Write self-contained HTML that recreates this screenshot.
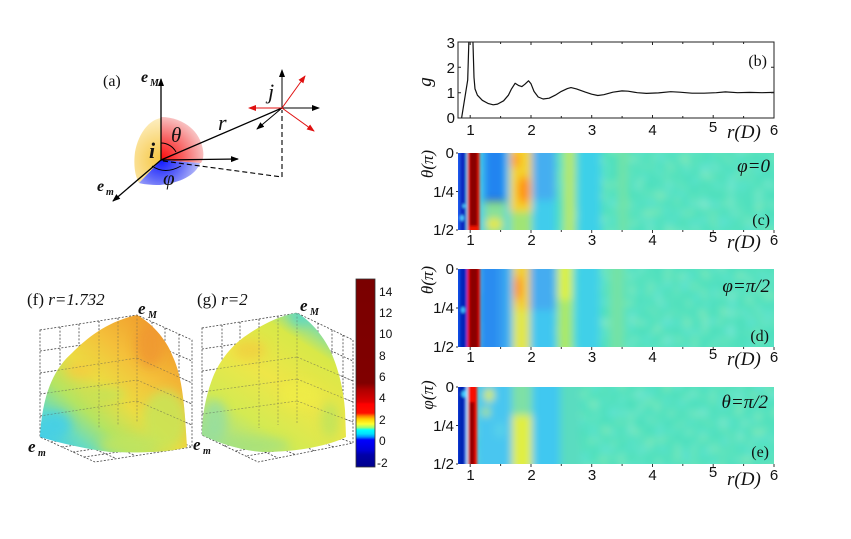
<!DOCTYPE html>
<html><head><meta charset="utf-8"><style>
html,body{margin:0;padding:0;background:#fff;}
svg{display:block;}
.tk{font-family:"Liberation Sans",sans-serif;font-size:15px;fill:#111;}
.cb{font-family:"Liberation Sans",sans-serif;font-size:12px;fill:#111;}
.sr{font-family:"Liberation Serif",serif;fill:#111;}
.it{font-family:"Liberation Serif",serif;font-style:italic;fill:#111;}
</style></head><body>
<svg width="851" height="539" viewBox="0 0 851 539" xmlns="http://www.w3.org/2000/svg">
<defs>
<marker id="ak" markerWidth="8" markerHeight="8" refX="7" refY="4" orient="auto" markerUnits="userSpaceOnUse"><path d="M0,1 L8,4 L0,7 Z" fill="#000"/></marker>
<marker id="ar" markerWidth="8" markerHeight="8" refX="7" refY="4" orient="auto" markerUnits="userSpaceOnUse"><path d="M0,1 L8,4 L0,7 Z" fill="#e01010"/></marker>
<radialGradient id="gy" gradientUnits="userSpaceOnUse" cx="161" cy="160" r="42"><stop offset="0" stop-color="#f6c640"/><stop offset="1" stop-color="#fdeec0"/></radialGradient>
<radialGradient id="gr" gradientUnits="userSpaceOnUse" cx="161" cy="160" r="44"><stop offset="0" stop-color="#ff0808"/><stop offset="0.5" stop-color="#f86060"/><stop offset="1" stop-color="#f8c4c4"/></radialGradient>
<radialGradient id="gb" gradientUnits="userSpaceOnUse" cx="161" cy="160" r="40"><stop offset="0" stop-color="#1018ff"/><stop offset="0.5" stop-color="#6068f8"/><stop offset="1" stop-color="#c0c4f8"/></radialGradient>
<filter id="bl" filterUnits="userSpaceOnUse" x="430" y="20" width="380" height="480"><feGaussianBlur stdDeviation="4"/></filter>
<filter id="bls" filterUnits="userSpaceOnUse" x="430" y="20" width="380" height="480"><feGaussianBlur stdDeviation="1.3"/></filter>
<filter id="bl2" x="-20%" y="-20%" width="140%" height="140%"><feGaussianBlur stdDeviation="5"/></filter>
<filter id="m1" x="0" y="0" width="100%" height="100%"><feTurbulence type="fractalNoise" baseFrequency="0.11" numOctaves="2" seed="3"/><feColorMatrix type="matrix" values="0 0 0 0 0.62  0 0 0 0 0.92  0 0 0 0 0.42  3 0 0 0 -1.5"/></filter>
<filter id="m2" x="0" y="0" width="100%" height="100%"><feTurbulence type="fractalNoise" baseFrequency="0.11" numOctaves="2" seed="11"/><feColorMatrix type="matrix" values="0 0 0 0 0.2  0 0 0 0 0.8  0 0 0 0 0.95  3 0 0 0 -1.5"/></filter>
<clipPath id="cb"><rect x="458" y="42" width="316" height="76"/></clipPath>
<clipPath id="cc"><rect x="458" y="153" width="316" height="77"/></clipPath>
<clipPath id="cd"><rect x="458" y="269" width="316" height="78"/></clipPath>
<clipPath id="ce"><rect x="458" y="387" width="316" height="77"/></clipPath>
<linearGradient id="cbar" x1="0" y1="0" x2="0" y2="1">
<stop offset="0" stop-color="#7a0000"/><stop offset="0.553" stop-color="#800000"/><stop offset="0.59" stop-color="#b00000"/><stop offset="0.654" stop-color="#e00000"/><stop offset="0.665" stop-color="#ff0000"/><stop offset="0.713" stop-color="#ff1000"/><stop offset="0.729" stop-color="#ff8000"/><stop offset="0.745" stop-color="#ffd000"/><stop offset="0.771" stop-color="#ffff30"/><stop offset="0.79" stop-color="#a0ff70"/><stop offset="0.803" stop-color="#00ffff"/><stop offset="0.824" stop-color="#00e0ff"/><stop offset="0.84" stop-color="#0090ff"/><stop offset="0.856" stop-color="#0000ff"/><stop offset="0.91" stop-color="#0000d8"/><stop offset="0.936" stop-color="#0000a8"/><stop offset="1" stop-color="#00008b"/>
</linearGradient>
<linearGradient id="sf" gradientUnits="userSpaceOnUse" x1="150" y1="318" x2="45" y2="440"><stop offset="0" stop-color="#f09c2c"/><stop offset="0.28" stop-color="#f4c03a"/><stop offset="0.5" stop-color="#ecdc42"/><stop offset="0.7" stop-color="#b4e462"/><stop offset="0.86" stop-color="#6cdcbc"/><stop offset="1" stop-color="#44cfe8"/></linearGradient>
<linearGradient id="sg" gradientUnits="userSpaceOnUse" x1="297" y1="313" x2="215" y2="440"><stop offset="0" stop-color="#78dcb0"/><stop offset="0.15" stop-color="#d8e848"/><stop offset="0.45" stop-color="#eee648"/><stop offset="0.75" stop-color="#d4ea52"/><stop offset="1" stop-color="#a0e090"/></linearGradient>
<clipPath id="clf"><path d="M137,315 C150,322 166,338 173,357 C180,372 183,392 185,417 L187,447 C170,452 150,453 110,452 C85,449 60,443 40,437 C41,418 44,400 50,385 C56,370 64,360 72,353 C85,340 105,322 137,315 Z"/></clipPath>
<clipPath id="clg"><path d="M297,313 C305,317 320,330 330,350 C337,365 343,385 345,410 L346,437 C330,445 300,452 263,452 C245,451 220,444 202,435 C202,415 206,395 213,377 C220,360 232,345 247,335 C260,326 280,315 297,313 Z"/></clipPath>
</defs>
<rect width="851" height="539" fill="#fff"/>

<!-- ===== Panel (a) ===== -->
<path d="M161,160 L161,118 C148,120 138,135 135,152 C133,168 136,178 139,183 Z" fill="url(#gy)"/>
<path d="M161,160 L161,117 C182,117 200,130 203,150 C204,156 203,160 201,163 Z" fill="url(#gr)"/>
<path d="M161,160 L200,163 C196,175 180,183 160,185 C150,185 142,184 139,183 Z" fill="url(#gb)"/>
<path d="M161,143 A17,17 0 0 1 176,152" fill="none" stroke="#000" stroke-width="1"/>
<path d="M152,166 Q165,175 181,166" fill="none" stroke="#000" stroke-width="1"/>
<g stroke="#000" stroke-width="1.3" fill="none">
<line x1="161" y1="160" x2="161" y2="79" marker-end="url(#ak)"/>
<line x1="161" y1="160" x2="238" y2="159" marker-end="url(#ak)"/>
<line x1="161" y1="160" x2="113" y2="201" marker-end="url(#ak)"/>
<line x1="161" y1="160" x2="282" y2="108"/>
<line x1="163" y1="161" x2="282" y2="177" stroke-dasharray="5,3" stroke-width="1.1"/>
<line x1="282" y1="177" x2="282" y2="110" stroke-dasharray="5,3" stroke-width="1.1"/>
<line x1="282" y1="108" x2="282" y2="70" marker-end="url(#ak)" stroke-width="1"/>
<line x1="282" y1="108" x2="319" y2="108" marker-end="url(#ak)" stroke-width="1"/>
<line x1="282" y1="108" x2="257" y2="129" marker-end="url(#ak)" stroke-width="1"/>
</g>
<g stroke="#e01010" stroke-width="1" fill="none">
<line x1="282" y1="108" x2="305" y2="76" marker-end="url(#ar)"/>
<line x1="282" y1="108" x2="249" y2="108" marker-end="url(#ar)"/>
<line x1="282" y1="108" x2="314" y2="131" marker-end="url(#ar)"/>
</g>
<text x="103" y="86" class="sr" font-size="16">(a)</text>
<text x="141" y="82" class="it" font-size="16" font-weight="bold">e</text><text x="150" y="86" class="it" font-size="10" font-weight="bold">M</text>
<text x="97" y="191" class="it" font-size="16" font-weight="bold">e</text><text x="106" y="195" class="it" font-size="10" font-weight="bold">m</text>
<text x="149" y="158" class="it" font-size="22" font-weight="bold">i</text>
<text x="171" y="142" class="it" font-size="21">θ</text>
<text x="218" y="130" class="it" font-size="22">r</text>
<text x="268" y="99" class="it" font-size="22">j</text>
<text x="163" y="185" class="it" font-size="21">φ</text>

<!-- ===== Panel (b) ===== -->
<g clip-path="url(#cb)">
<path d="M461.6,118 L467.7,80 L469.2,30 M472.6,30 L474,77.5 L475,88.9 L477.4,95.2 L482.3,100.3 L488.4,103.6 L493.2,104.8 L497.5,104.1 L503.6,100.8 L508.4,95.2 L511.5,88.9 L515.1,83.3 L518.8,85.6 L521.8,86.6 L524.8,84.3 L528.5,80.8 L531,83.8 L534,91.4 L538.2,97 L543.1,99 L549.2,98.2 L555.2,95.2 L561.3,91.4 L567.4,88.6 L571,87.6 L576.5,88.9 L585.6,92.2 L591.7,94.2 L597.8,95.5 L603.8,94.7 L612.9,92.2 L622,90.9 L628.1,91.2 L637.3,92.7 L646.4,93.4 L658.5,92.9 L670.7,91.7 L679.8,92.2 L692,93.2 L704.1,93.2 L716.3,92.7 L725.4,91.9 L737.6,92.7 L749.7,92.4 L761.9,92.7 L774,92.4" fill="none" stroke="#111" stroke-width="1.2" stroke-linejoin="round"/>
</g>
<rect x="458" y="42" width="316" height="76" fill="none" stroke="#222" stroke-width="1"/>
<g stroke="#222" stroke-width="1">
<path d="M470.2,118v-3M500.6,118v-2M531,118v-3M561.3,118v-2M591.7,118v-3M622.1,118v-2M652.5,118v-3M682.8,118v-2M713.2,118v-3M743.6,118v-2"/>
<path d="M470.2,42v3M500.6,42v2M531,42v3M561.3,42v2M591.7,42v3M622.1,42v2M652.5,42v3M682.8,42v2M713.2,42v3M743.6,42v2"/>
<path d="M458,67.3h3M458,92.7h3M774,67.3h-3M774,92.7h-3"/>
</g>
<g class="tk" text-anchor="end"><text x="455" y="48">3</text><text x="455" y="73">2</text><text x="455" y="98">1</text><text x="455" y="123">0</text></g>
<text transform="translate(431,82) rotate(-90)" class="it" font-size="19" text-anchor="middle">g</text>
<text x="767" y="66" class="sr" font-size="16" text-anchor="end">(b)</text>
<g class="tk" text-anchor="middle"><text x="470.5" y="135">1</text><text x="531.5" y="135">2</text><text x="592" y="135">3</text><text x="652.5" y="135">4</text><text x="713" y="132">5</text><text x="774" y="135">6</text></g>
<text x="727" y="138" class="it" font-size="19">r(D)</text>

<!-- ===== Panel (c) ===== -->
<g clip-path="url(#cc)">
<g filter="url(#bl)">
<rect x="440" y="140" width="350" height="100" fill="#4ee0bd"/>
<rect x="470" y="140" width="310" height="100" filter="url(#m1)" opacity="0.55"/>
<rect x="470" y="140" width="310" height="100" filter="url(#m2)" opacity="0.5"/>
<rect x="478" y="140" width="8" height="100" fill="#40c8f0"/>
<rect x="484" y="140" width="22" height="62" fill="#2284f0"/>
<rect x="484" y="200" width="22" height="40" fill="#7ede a0" />
<rect x="484" y="202" width="22" height="40" fill="#86e09a"/>
<ellipse cx="494" cy="224" rx="8" ry="6" fill="#e8e844"/>
<rect x="506" y="140" width="5" height="100" fill="#40d4f0"/>
<rect x="510" y="140" width="22" height="74" fill="#f4d22e"/>
<ellipse cx="524" cy="190" rx="6" ry="14" fill="#ff9018"/>
<ellipse cx="515" cy="160" rx="5" ry="8" fill="#ffa020"/>
<rect x="510" y="212" width="22" height="28" fill="#a0e474"/>
<rect x="532" y="140" width="24" height="60" fill="#44aef0"/>
<rect x="532" y="200" width="24" height="40" fill="#40ccec"/>
<rect x="564" y="140" width="11" height="100" fill="#b6e866"/>
<rect x="577" y="140" width="24" height="100" fill="#3ed0e8"/>
<rect x="618" y="140" width="10" height="100" fill="#70e2a8"/>
</g>
<g filter="url(#bls)">
<rect x="448" y="140" width="19" height="100" fill="#1a5cf0"/>
<rect x="460" y="140" width="6" height="100" fill="#0828c0"/>
<ellipse cx="462" cy="218" rx="2" ry="3" fill="#50c8ff"/>
<ellipse cx="464" cy="206" rx="1.5" ry="2" fill="#50c8ff"/>
<rect x="466" y="140" width="2" height="100" fill="#58d8f8"/>
<rect x="467.5" y="140" width="12" height="100" fill="#f01800"/>
<rect x="469.5" y="140" width="8" height="86" fill="#8a0000"/>
</g>
</g>
<g stroke="#333" stroke-width="1"><path d="M470.2,230v3M500.6,230v2M531,230v3M561.3,230v2M591.7,230v3M622.1,230v2M652.5,230v3M682.8,230v2M713.2,230v3M743.6,230v2M774,230v3M458,153h-2M458,191.5h-2M458,230h-2"/></g>
<g class="tk" text-anchor="end"><text x="454" y="158">0</text><text x="454" y="197">1/4</text><text x="454" y="235">1/2</text></g>
<text transform="translate(433,164) rotate(-90)" class="it" font-size="17" text-anchor="middle">θ(π)</text>
<text x="770" y="172" class="it" font-size="19" text-anchor="end">φ=0</text>
<text x="770" y="225" class="sr" font-size="16" text-anchor="end">(c)</text>
<g class="tk" text-anchor="middle"><text x="470.5" y="245">1</text><text x="531.5" y="245">2</text><text x="592" y="245">3</text><text x="652.5" y="245">4</text><text x="713" y="242">5</text><text x="774" y="245">6</text></g>
<text x="727" y="248" class="it" font-size="19">r(D)</text>

<!-- ===== Panel (d) ===== -->
<g clip-path="url(#cd)">
<g filter="url(#bl)">
<rect x="440" y="255" width="350" height="105" fill="#4ee0bd"/>
<rect x="470" y="255" width="310" height="105" filter="url(#m1)" opacity="0.55"/>
<rect x="470" y="255" width="310" height="105" filter="url(#m2)" opacity="0.5"/>
<rect x="478" y="255" width="24" height="105" fill="#2a8cf0"/>
<rect x="500" y="255" width="10" height="105" fill="#38a4f0"/>
<rect x="510" y="255" width="4" height="105" fill="#40d0f0"/>
<rect x="513" y="255" width="17" height="55" fill="#f2d036"/>
<ellipse cx="518" cy="288" rx="4" ry="13" fill="#ff9020"/>
<rect x="513" y="310" width="17" height="50" fill="#e2e64a"/>
<rect x="530" y="255" width="26" height="55" fill="#44acf0"/>
<rect x="530" y="310" width="26" height="50" fill="#40c6f0"/>
<rect x="558" y="255" width="14" height="45" fill="#dcf040"/>
<rect x="558" y="300" width="14" height="60" fill="#aae866"/>
<rect x="575" y="255" width="25" height="105" fill="#40d0e8"/>
<rect x="610" y="255" width="14" height="105" fill="#74e2a6"/>
</g>
<g filter="url(#bls)">
<rect x="448" y="255" width="19" height="105" fill="#1050e8"/>
<rect x="460" y="255" width="6" height="105" fill="#0020b8"/>
<ellipse cx="463" cy="310" rx="2" ry="3" fill="#40c0ff"/>
<rect x="467" y="255" width="13" height="105" fill="#e81000"/>
<rect x="469.5" y="255" width="8.5" height="105" fill="#8c0000"/>
</g>
</g>
<g stroke="#333" stroke-width="1"><path d="M470.2,347v3M500.6,347v2M531,347v3M561.3,347v2M591.7,347v3M622.1,347v2M652.5,347v3M682.8,347v2M713.2,347v3M743.6,347v2M774,347v3M458,269h-2M458,308h-2M458,347h-2"/></g>
<g class="tk" text-anchor="end"><text x="454" y="274">0</text><text x="454" y="313">1/4</text><text x="454" y="352">1/2</text></g>
<text transform="translate(433,280) rotate(-90)" class="it" font-size="17" text-anchor="middle">θ(π)</text>
<text x="770" y="292" class="it" font-size="19" text-anchor="end">φ=π/2</text>
<text x="769" y="341" class="sr" font-size="16" text-anchor="end">(d)</text>
<g class="tk" text-anchor="middle"><text x="470.5" y="362">1</text><text x="531.5" y="362">2</text><text x="592" y="362">3</text><text x="652.5" y="362">4</text><text x="713" y="359">5</text><text x="774" y="362">6</text></g>
<text x="727" y="365" class="it" font-size="19">r(D)</text>

<!-- ===== Panel (e) ===== -->
<g clip-path="url(#ce)">
<g filter="url(#bl)">
<rect x="440" y="375" width="350" height="100" fill="#4ee0bd"/>
<rect x="470" y="375" width="310" height="100" filter="url(#m1)" opacity="0.55"/>
<rect x="470" y="375" width="310" height="100" filter="url(#m2)" opacity="0.5"/>
<rect x="476" y="375" width="36" height="100" fill="#48c6f0"/>
<ellipse cx="489" cy="395" rx="5" ry="7" fill="#d8ee44"/>
<ellipse cx="486" cy="412" rx="4" ry="5" fill="#b0e670"/>
<ellipse cx="500" cy="430" rx="6" ry="8" fill="#56d0ea"/>
<rect x="512" y="375" width="20" height="40" fill="#7ee0a6"/>
<rect x="512" y="415" width="20" height="60" fill="#e0ee42"/>
<rect x="532" y="375" width="28" height="100" fill="#40c8f0"/>
<rect x="560" y="375" width="20" height="100" fill="#5adcc0"/>
</g>
<g filter="url(#bls)">
<rect x="448" y="375" width="18" height="100" fill="#0c3ad8"/>
<rect x="459" y="375" width="5" height="100" fill="#0020b0"/>
<circle cx="465" cy="394" r="3.5" fill="#40c8ff"/>
<rect x="466" y="375" width="2" height="100" fill="#a8e8ff"/>
<rect x="468" y="375" width="9" height="100" fill="#f81000"/>
<rect x="469.5" y="402" width="5" height="75" fill="#900000"/>
</g>
</g>
<g stroke="#333" stroke-width="1"><path d="M470.2,464v3M500.6,464v2M531,464v3M561.3,464v2M591.7,464v3M622.1,464v2M652.5,464v3M682.8,464v2M713.2,464v3M743.6,464v2M774,464v3M458,387h-2M458,425.5h-2M458,464h-2"/></g>
<g class="tk" text-anchor="end"><text x="454" y="392">0</text><text x="454" y="431">1/4</text><text x="454" y="469">1/2</text></g>
<text transform="translate(433,395) rotate(-90)" class="it" font-size="17" text-anchor="middle">φ(π)</text>
<text x="768" y="408" class="it" font-size="19" text-anchor="end">θ=π/2</text>
<text x="769" y="457" class="sr" font-size="16" text-anchor="end">(e)</text>
<g class="tk" text-anchor="middle"><text x="470.5" y="480">1</text><text x="531.5" y="480">2</text><text x="592" y="480">3</text><text x="652.5" y="480">4</text><text x="713" y="477">5</text><text x="774" y="480">6</text></g>
<text x="727" y="485" class="it" font-size="19">r(D)</text>

<!-- ===== Panel (f) ===== -->
<g fill="none" stroke="#444" stroke-width="0.8" stroke-dasharray="2,1.6">
<path d="M40,330 L137,315 L192,340 L192,447 L95,462 L40,437 Z"/>
<path d="M60,327 V434 M79,324 V431 M99,321 V428 M118,318 V426 M137,315 V423"/>
<path d="M40,351 L137,337 L192,361 M40,373 L137,358 L192,383 M40,394 L137,380 L192,404 M40,416 L137,401 L192,425 M40,437 L137,423 L192,447"/>
<path d="M152,322 V430 M165,328 V435 M179,334 V441"/>
<path d="M51,442 L148,428 M62,447 L159,433 M73,452 L170,438 M84,457 L181,443"/>
<path d="M60,434 L115,458 M79,431 L134,455 M99,428 L154,452 M118,426 L173,450"/>
</g>
<g clip-path="url(#clf)">
<rect x="30" y="300" width="170" height="160" fill="url(#sf)"/>
<g filter="url(#bl2)" opacity="0.85">
<ellipse cx="165" cy="420" rx="22" ry="30" fill="#c8e458"/>
<ellipse cx="130" cy="445" rx="30" ry="10" fill="#c0e460"/>
<ellipse cx="80" cy="370" rx="14" ry="8" fill="#f4cc40"/>
<ellipse cx="150" cy="345" rx="14" ry="22" fill="#f09830"/>
<ellipse cx="105" cy="395" rx="20" ry="8" fill="#c6e256"/>
<ellipse cx="55" cy="425" rx="16" ry="14" fill="#44cfe8"/>
</g>
</g>
<g fill="none" stroke="#555" stroke-width="0.7" stroke-dasharray="2,1.6" opacity="0.55">
<path d="M99,321 V428 M118,318 V426 M137,315 V423 M40,373 L137,358 M40,394 L137,380 M40,416 L137,401 M137,358 L192,383 M137,380 L192,404 M137,401 L192,425"/>
</g>
<text x="27" y="305" class="sr" font-size="17">(f) <tspan font-style="italic">r=1.732</tspan></text>
<text x="138" y="314" class="it" font-size="17" font-weight="bold">e</text><text x="148" y="318" class="it" font-size="10" font-weight="bold">M</text>
<text x="28" y="452" class="it" font-size="17" font-weight="bold">e</text><text x="38" y="456" class="it" font-size="10" font-weight="bold">m</text>

<!-- ===== Panel (g) ===== -->
<g fill="none" stroke="#444" stroke-width="0.8" stroke-dasharray="2,1.6">
<path d="M202,328 L297,313 L353,340 L353,443 L258,462 L202,435 Z"/>
<path d="M222,325 V432 M240,322 V430 M259,319 V428 M278,316 V425 M297,313 V423"/>
<path d="M202,349 L297,335 L353,361 M202,371 L297,357 L353,381 M202,392 L297,379 L353,402 M202,414 L297,401 L353,422 M202,435 L297,423 L353,443"/>
<path d="M318,323 V430 M332,330 V436 M343,335 V440"/>
<path d="M213,440 L308,427 M224,446 L319,431 M236,451 L331,435 M247,456 L342,439"/>
<path d="M222,432 L278,458 M240,430 L296,455 M259,428 L315,451 M278,425 L334,447"/>
</g>
<g clip-path="url(#clg)">
<rect x="195" y="300" width="160" height="160" fill="url(#sg)"/>
<g filter="url(#bl2)" opacity="0.85">
<ellipse cx="250" cy="350" rx="16" ry="10" fill="#f0d040"/>
<ellipse cx="300" cy="318" rx="10" ry="8" fill="#60d8c0"/>
<ellipse cx="215" cy="420" rx="12" ry="20" fill="#96dea0"/>
<ellipse cx="255" cy="445" rx="35" ry="8" fill="#a8e27a"/>
<ellipse cx="300" cy="395" rx="20" ry="14" fill="#eeec46"/>
<ellipse cx="330" cy="420" rx="10" ry="18" fill="#c0e45c"/>
</g>
</g>
<g fill="none" stroke="#555" stroke-width="0.7" stroke-dasharray="2,1.6" opacity="0.55">
<path d="M259,319 V428 M278,316 V425 M297,313 V423 M202,371 L297,357 M202,392 L297,379 M202,414 L297,401 M297,357 L353,381 M297,379 L353,402 M297,401 L353,422"/>
</g>
<text x="197" y="305" class="sr" font-size="17">(g) <tspan font-style="italic">r=2</tspan></text>
<text x="300" y="311" class="it" font-size="17" font-weight="bold">e</text><text x="310" y="315" class="it" font-size="10" font-weight="bold">M</text>
<text x="193" y="450" class="it" font-size="17" font-weight="bold">e</text><text x="203" y="454" class="it" font-size="10" font-weight="bold">m</text>

<!-- ===== Colorbar ===== -->
<rect x="356" y="279" width="19" height="188" fill="url(#cbar)" stroke="#333" stroke-width="0.8"/>
<g class="cb"><text x="379" y="296">14</text><text x="379" y="317">12</text><text x="379" y="338">10</text><text x="379" y="360">8</text><text x="379" y="381">6</text><text x="379" y="402">4</text><text x="379" y="424">2</text><text x="379" y="445">0</text><text x="377" y="467">-2</text></g>
</svg>
</body></html>
